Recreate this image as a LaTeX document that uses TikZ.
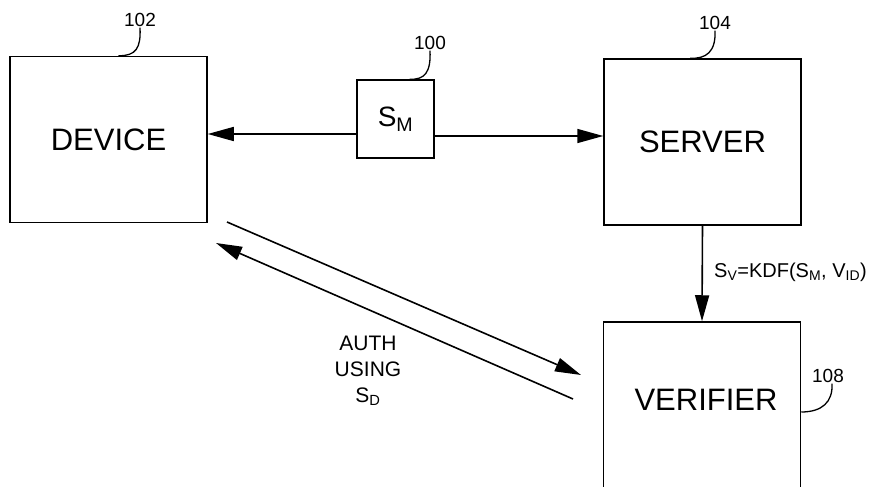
\documentclass[tikz,border=0pt]{standalone}
\usepackage{fontspec}
\setmainfont{Liberation Sans}
\usetikzlibrary{arrows.meta}
\newcommand{\lowidx}[1]{\textsubscript{#1}}

\tikzset{
    blockbox/.style={draw, line width=1.5pt, minimum width=197pt, minimum height=166pt, inner sep=0pt, font=\fontsize{31}{36}\selectfont},
    flowarrow/.style={line width=1.6pt, -{Triangle[length=26pt,width=14pt]}},
    leader/.style={line width=1.3pt},
    refnum/.style={inner sep=0.75pt, font=\fontsize{19}{22}\selectfont},
}

\begin{document}
\begin{tikzpicture}[x=1pt,y=1pt,yscale=-1,xscale=1]
    \useasboundingbox (0,0) rectangle (876,487);

    % Blocks
    \node [blockbox] (device) at (108.5,139.5) {DEVICE};
    \node [blockbox] (server) at (702.5,142) {SERVER};
    \node [blockbox, minimum height=188pt] (verifier) at (702,416) {};
    \node [font=\fontsize{31}{36}\selectfont] (verifiertext) at (706,400) {VERIFIER};
    \node [draw, line width=1.5pt, minimum width=77pt, minimum height=78pt, inner sep=0pt, font=\fontsize{28}{30}\selectfont] (smbox) at (395.5,119) {S\lowidx{M}};

    % Reference numerals
    \node [refnum] (n102) at (140,20) {102};
    \node [refnum] (n100) at (430,43) {100};
    \node [refnum] (n104) at (715,23) {104};
    \node [refnum] (n108) at (828,376) {108};

    \draw [leader] (n102.south) .. controls (141,48) and (136,56) .. ([xshift=10pt]device.north);
    \draw [leader] (n100.south) .. controls (431,72) and (425,80) .. ([xshift=14pt]smbox.north);
    \draw [leader] (n104.south) .. controls (716,52) and (706,59) .. ([xshift=-12.5pt]server.north);
    \draw [leader] ([yshift=-4pt]verifier.east) .. controls (822,412) and (833,402) .. ([xshift=4pt]n108.south);

    % Key distribution
    \coordinate (mleft) at ([yshift=15pt]smbox.west);
    \coordinate (mright) at ([yshift=17pt]smbox.east);
    \draw [flowarrow] (mleft) -- (mleft -| device.east);
    \draw [flowarrow] (mright) -- (mright -| server.west);
    \draw [flowarrow] (server.south) -- (verifier.north);

    % Text Node
    \node [anchor=west, inner sep=0pt, font=\fontsize{20}{24}\selectfont] (kdf) at (714,272) {S\lowidx{V}=KDF(S\lowidx{M}, V\lowidx{ID})};

    % Authentication
    \coordinate (authA) at (227,222);
    \coordinate (authB) at (581,375);
    \coordinate (authC) at (573,399);
    \coordinate (authD) at (216,243);
    \draw [flowarrow] (authA) -- (authB);
    \draw [flowarrow] (authC) -- (authD);

    % Text Node
    \node [align=center, inner sep=0pt, font=\fontsize{21}{26}\selectfont] (authtext) at (368,371) {AUTH\\USING\\S\lowidx{D}};
\end{tikzpicture}
\end{document}
